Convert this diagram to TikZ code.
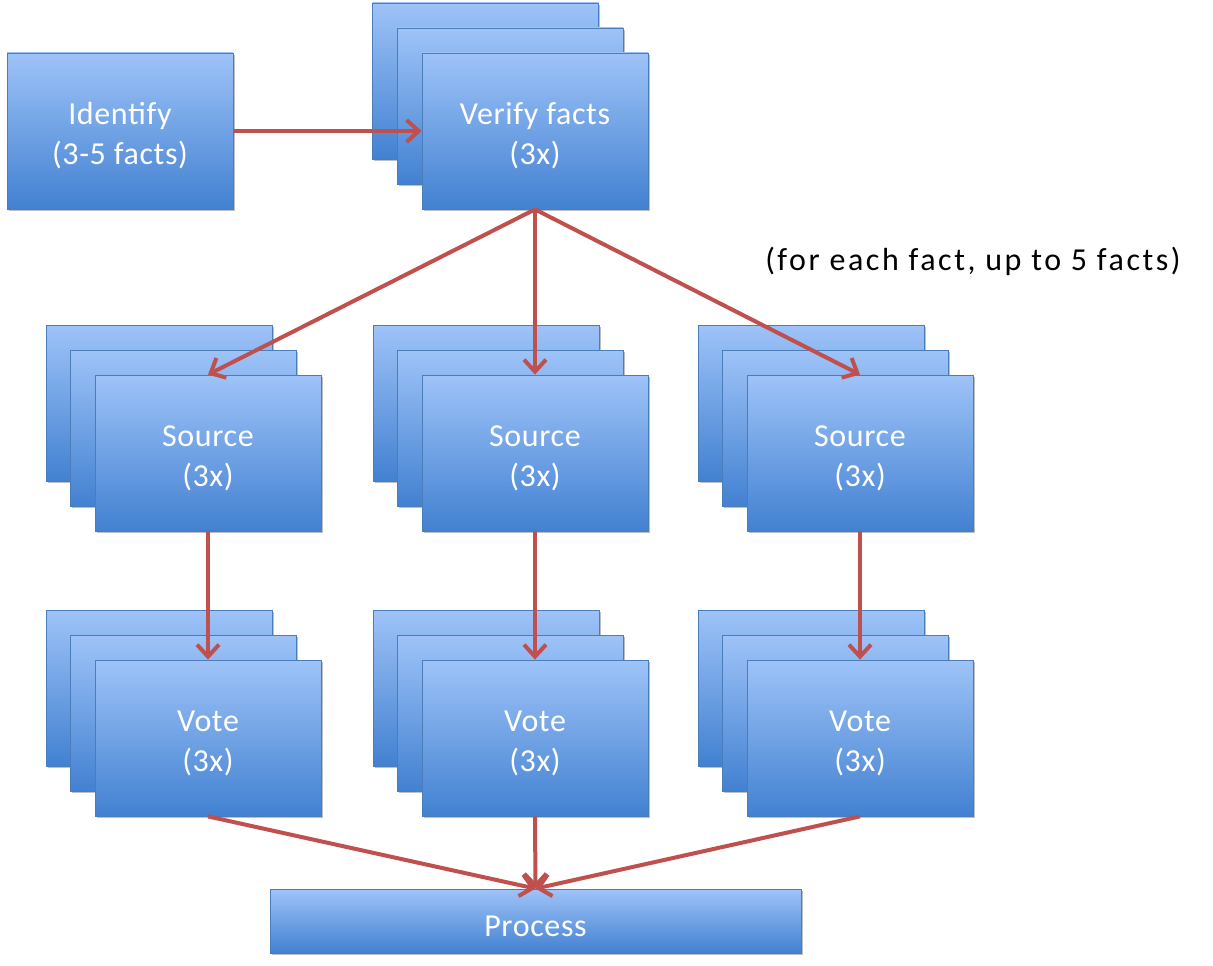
\documentclass[tikz,border=0pt]{standalone}
\usepackage{fontspec}
\setmainfont{Carlito}
\newfontfamily\boxfont[LetterSpace=2]{Carlito}
\newfontfamily\notefont[LetterSpace=8]{Carlito}
\usetikzlibrary{arrows.meta,shadows}
\definecolor{boxtop}{HTML}{9EC3F8}
\definecolor{boxbot}{HTML}{4281D1}
\definecolor{boxline}{HTML}{4A7EBB}
\definecolor{arr}{HTML}{C0504D}
\tikzset{
  bx/.style={rectangle, top color=boxtop, bottom color=boxbot, draw=boxline, line width=0.8pt,
    minimum width=226pt, minimum height=156pt, inner sep=0pt,
    drop shadow={shadow xshift=1.5pt, shadow yshift=-2pt, opacity=0.25, fill=black}},
  pbx/.style={bx, minimum width=531pt, minimum height=64pt},
  bxtext/.style={text=white, align=center, inner sep=0pt, font=\boxfont\fontsize{32}{40}\selectfont},
  ar/.style={draw=arr, line width=4pt, -{Straight Barb[length=12pt,width=22pt]}},
  lbl/.style={font=\notefont\fontsize{32}{40}\selectfont, text=black}
}
\begin{document}
\begin{tikzpicture}[x=1pt,y=-1pt]
\useasboundingbox (0,0) rectangle (1213,966);
% Identify
\node[bx] (id) at (120,131) {};
\node[bxtext] (idt) at (120,136) {Identify\\(3-5 facts)};
% Verify stack
\node[bx] (vb) at (485.5,81) {};
\node[bx] (vm) at (510,106) {};
\node[bx] (vf) at (535,131) {};
\node[bxtext] (vft) at (535,136) {Verify facts\\(3x)};
% Source and vote stacks
\foreach \n/\x in {a/208,b/535,c/860}{
  \node[bx] (s\n b) at (\x-49,403) {};
  \node[bx] (s\n m) at (\x-24.5,428) {};
  \node[bx] (s\n) at (\x,453) {};
  \node[bxtext] (s\n t) at (\x,458) {Source\\(3x)};
  \node[bx] (v\n b) at (\x-49,688) {};
  \node[bx] (v\n m) at (\x-24.5,713) {};
  \node[bx] (v\n) at (\x,738) {};
  \node[bxtext] (v\n t) at (\x,743) {Vote\\(3x)};
}
\node[pbx] (pr) at (535.5,921) {};
\node[bxtext] (prt) at (535.5,926) {Process};
\node[lbl] (note) at (973,261) {(for each fact, up to 5 facts)};
% arrows
\draw[ar] (id.east) -- (vf.west);
\draw[ar] (vf.south) -- (sa.north);
\draw[ar] (vf.south) -- (sb.north);
\draw[ar] (vf.south) -- (sc.north);
\foreach \n in {a,b,c}{
  \draw[ar] (s\n.south) -- (v\n.north);
  \draw[ar] (v\n.south) -- (pr.north);
}
\end{tikzpicture}
\end{document}
